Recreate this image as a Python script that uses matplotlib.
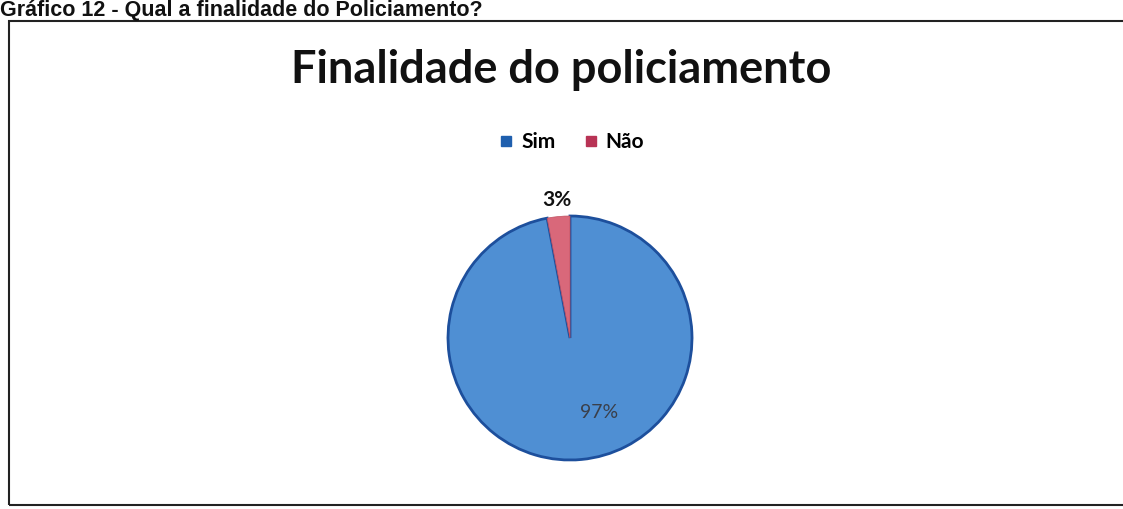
import numpy as np
import matplotlib.pyplot as plt
from matplotlib.patches import Rectangle

categories = ['Sim', 'Não']
shares = [97, 3]
colors = ['#4f8fd3', '#d9687a']
legend_colors = ['#1f5fae', '#b83355']

W, H = 1123, 509
fig = plt.figure(figsize=(W / 100, H / 100), dpi=100)
fig.patch.set_facecolor('white')

def fx(px):
    return px / W

def fy(py):
    return 1 - py / H

# caption above the frame
fig.text(fx(0), fy(16), 'Gráfico 12 - Qual a finalidade do Policiamento?',
         fontsize=15.5, fontweight='bold', family='Liberation Sans',
         va='baseline', ha='left', color='#111111')

# frame around the chart
fig.patches.append(Rectangle((fx(9), fy(505)), fx(1130) - fx(9), fy(21) - fy(505),
                             transform=fig.transFigure, fill=False,
                             edgecolor='#222222', linewidth=1.5))

fig.text(fx(561), fy(70), 'Finalidade do policiamento', fontsize=32.5,
         fontweight='bold', family='Lato', ha='center', va='center',
         color='#111111')

# pie
cx, cy, r = 570, 338, 122
ax = fig.add_axes([fx(cx - r), fy(cy + r), 2 * r / W, 2 * r / H])
wedges, texts, autotexts = ax.pie(
    shares, colors=colors, startangle=90, counterclock=False,
    autopct='%1.0f%%', pctdistance=0.65, radius=1,
    wedgeprops=dict(edgecolor='#1d4f9c', linewidth=2),
    textprops=dict(fontsize=14, family='Lato'))
wedges[1].set_edgecolor('#c05060')
wedges[1].set_linewidth(0.5)
ax.set_xlim(-1, 1)
ax.set_ylim(-1, 1)
ax.axis('off')

autotexts[0].set_color('#3a3f4a')
autotexts[0].set_position((0.24, -0.61))
# move small-slice label outside the pie
w = wedges[1]
mid = np.deg2rad((w.theta1 + w.theta2) / 2)
autotexts[1].set_position((1.14 * np.cos(mid), 1.14 * np.sin(mid)))
autotexts[1].set_fontweight('bold')
autotexts[1].set_color('#111111')
autotexts[1].set_fontsize(15)

# legend
handles = [plt.Line2D([], [], marker='s', linestyle='', markersize=7.5,
                      markerfacecolor=c, markeredgecolor=c) for c in legend_colors]
fig.legend(handles, categories, loc='center', bbox_to_anchor=(fx(571), fy(142)),
           ncol=2, frameon=False, handlelength=0.8, handletextpad=0.3,
           columnspacing=1.3, prop=dict(family='Lato', weight='bold', size=15))

fig.savefig('out.png', dpi=100)
